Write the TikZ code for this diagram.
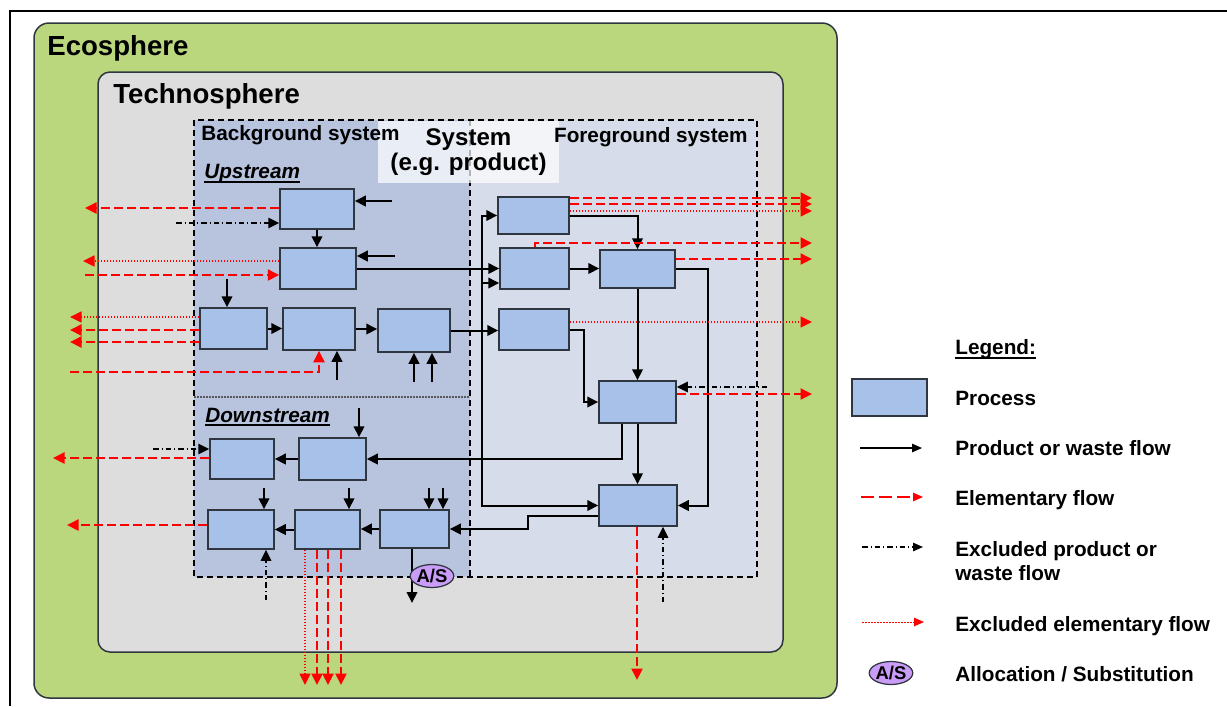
\documentclass[tikz,border=0pt]{standalone}
\usepackage{fontspec}
\setmainfont{Liberation Sans}
\usetikzlibrary{arrows.meta, shapes.geometric}
\definecolor{lcgreen}{HTML}{BBD77E}
\definecolor{lcgray}{HTML}{DDDDDD}
\definecolor{lcback}{HTML}{B8C3DE}
\definecolor{lcfore}{HTML}{D6DCE9}
\definecolor{lcproc}{HTML}{A8C1E8}
\definecolor{lcedge}{HTML}{303640}
\definecolor{lcpurple}{HTML}{C99CF8}
\definecolor{lcred}{HTML}{FF0000}

\begin{document}
\begin{tikzpicture}[x=0.2mm, y=-0.2mm,
  proc/.style 2 args={draw=lcedge, fill=lcproc, line width=0.3mm, inner sep=0pt, minimum width=#1*0.2mm, minimum height=#2*0.2mm},
  alloc/.style={ellipse, draw=lcedge, fill=lcpurple, line width=0.25mm, inner sep=0pt, minimum width=7mm, minimum height=4.6mm, font=\fontsize{10.5}{11}\selectfont\bfseries},
  flow/.style={-{Triangle[length=2.2mm, width=2.1mm]}, line width=0.4mm},
  elem/.style={-{Triangle[length=2.3mm, width=2.2mm]}, lcred, line width=0.4mm, dash pattern=on 1.8mm off 0.8mm},
  xelem/.style={-{Triangle[length=2.3mm, width=2.2mm]}, lcred, line width=0.25mm, dash pattern=on 0.3mm off 0.3mm},
  excl/.style={-{Triangle[length=2.2mm, width=2.1mm]}, line width=0.3mm, dash pattern=on 1.1mm off 0.6mm on 0.2mm off 0.6mm},
  small/.style={-{Triangle[length=2mm, width=1.7mm]}},
  big/.style={font=\fontsize{15.7}{18}\selectfont\bfseries, inner sep=0pt},
  lbl/.style={font=\fontsize{11.8}{14.8}\selectfont\bfseries, inner sep=0pt},
  sub/.style={font=\fontsize{11.8}{14.8}\selectfont\bfseries\itshape, inner sep=0pt},
  sysbox/.style={fill=white, fill opacity=0.7, text opacity=1, align=center, inner sep=0pt, minimum width=36.2mm, minimum height=12.4mm, font=\fontsize{13.7}{14.2}\selectfont\bfseries},
  border/.style={draw=lcedge, line width=0.3mm},
  sysline/.style={line width=0.3mm, dash pattern=on 1.2mm off 0.8mm}
]
  \useasboundingbox (0,0) rectangle (1227,706);
  \draw[line width=0.4mm] (10,706) -- (10,11) -- (1227,11);

  \draw[border, fill=lcgreen, rounded corners=3mm] (34,23) rectangle (837,698);
  \draw[border, fill=lcgray, rounded corners=2.4mm] (98,72) rectangle (783,652);
  \fill[lcback] (194,120) rectangle (470,577);
  \fill[lcfore] (470,120) rectangle (757,577);
  \draw[gray!70!black, line width=0.25mm, dash pattern=on 0.3mm off 0.3mm] (194,397) -- (470,397);
  \draw[sysline] (194,120) rectangle (757,577);
  \draw[sysline] (470,120) -- (470,577);
  \node[sysbox] (sys) at (468.5,152) {System\\(e.g. product)};

  \node[big, anchor=base west] (eco) at (47,55) {Ecosphere};
  \node[big, anchor=base west] (tech) at (113,103) {Technosphere};
  \node[lbl, anchor=base west] (bgs) at (201,140) {Background system};
  \node[lbl, anchor=base east] (fgs) at (748,142) {Foreground system};
  \node[sub, anchor=base west] (ups) at (204,178) {Upstream};
  \node[sub, anchor=base west] (dns) at (205,422) {Downstream};
  \draw[line width=0.4mm] ([yshift=-0.8mm]ups.base west) -- ([yshift=-0.8mm]ups.base east);
  \draw[line width=0.4mm] ([yshift=-0.6mm]dns.base west) -- ([yshift=-0.6mm]dns.base east);

  \node[proc={74}{40}] (up1) at (317,209) {};
  \node[proc={76}{41}] (up2) at (318,268.5) {};
  \node[proc={67}{41}] (up3) at (233.5,328.5) {};
  \node[proc={72}{42}] (up4) at (319,329) {};
  \node[proc={72}{43}] (up5) at (414,330.5) {};
  \node[proc={71}{37}] (fg1) at (533.5,215.5) {};
  \node[proc={69}{41}] (fg2) at (534.5,268.5) {};
  \node[proc={70}{41}] (fg3) at (534,329.5) {};
  \node[proc={75}{38}] (fg4) at (637.5,269) {};
  \node[proc={77}{42}] (fg5) at (637.5,402) {};
  \node[proc={78}{41}] (fg6) at (638,505.5) {};
  \node[proc={64}{40}] (dn1) at (242,459) {};
  \node[proc={67}{42}] (dn2) at (332.5,459) {};
  \node[proc={66}{39}] (dn3) at (241,529.5) {};
  \node[proc={65}{39}] (dn4) at (327.5,529.5) {};
  \node[proc={69}{38}] (dn5) at (414.5,529) {};

  \coordinate (a1) at (392,201);
  \coordinate (a2) at (395,256);
  \coordinate (a3) at (227,279);
  \coordinate (a4) at (337,380);
  \coordinate (a5) at (414,382);
  \coordinate (a6) at (432,382);
  \coordinate (e1) at (85,208);
  \coordinate (e2) at (83,261);
  \coordinate (e3) at (85,275);
  \coordinate (e4) at (70,317);
  \coordinate (e5) at (70,330);
  \coordinate (e6) at (70,342);
  \coordinate (e7) at (70,372);
  \coordinate (x1) at (176,223);

  \draw[flow] (a1) -- (a1 -| up1.east);
  \draw[elem] (e1 -| up1.west) -- (e1);
  \draw[excl] (x1) -- (x1 -| up1.west);
  \draw[flow] (up1.south) -- (up1.south |- up2.north);
  \draw[flow] (a2) -- (a2 -| up2.east);
  \draw[xelem] (e2 -| up2.west) -- (e2);
  \draw[elem] (e3) -- (e3 -| up2.west);
  \draw[flow] (up2.east) -- (up2.east -| fg2.west);
  \draw[flow] (a3) -- (a3 |- up3.north);
  \draw[xelem] (e4 -| up3.west) -- (e4);
  \draw[elem] (e5 -| up3.west) -- (e5);
  \draw[elem] (e6 -| up3.west) -- (e6);
  \draw[flow] (up3.east) -- (up3.east -| up4.west);
  \draw[flow] (up4.east) -- (up4.east -| up5.west);
  \draw[elem] (e7) -| (up4.south);
  \draw[flow] (a4) -- (a4 |- up4.south);
  \draw[flow] (a5) -- (a5 |- up5.south);
  \draw[flow] (a6) -- (a6 |- up5.south);
  \draw[flow] (up5.east) -- (up5.east -| fg3.west);

  \coordinate (bus) at (482,283);
  \coordinate (e8) at (812,198);
  \coordinate (e9) at (812,204);
  \coordinate (e10) at (812,211);
  \coordinate (e11) at (812,243);
  \coordinate (e12) at (812,259);
  \coordinate (e13) at (812,322);
  \coordinate (e14) at (812,394);
  \coordinate (e15) at (637,680);
  \coordinate (x2) at (767,387);
  \coordinate (x3) at (663,602);
  \coordinate (r1) at (708,269);
  \coordinate (r2) at (584,330);
  \coordinate (r3) at (622,459);
  \coordinate (r4) at (528,516);
  \coordinate (r5) at (528,529);

  \draw[flow] (bus) |- (fg1.west);
  \draw[flow] (bus) -- (bus -| fg2.west);
  \draw[flow] (bus) |- (fg6.west);
  \draw[elem] (e8 -| fg1.east) -- (e8);
  \draw[elem] (e9 -| fg1.east) -- (e9);
  \draw[xelem] (e10 -| fg1.east) -- (e10);
  \draw[flow] (fg1.east) -| (fg4.north);
  \draw[elem] (fg2.north) |- (e11);
  \draw[flow] (fg2.east) -- (fg2.east -| fg4.west);
  \draw[elem] (e12 -| fg4.east) -- (e12);
  \draw[flow] (fg4.east) -- (r1) |- (fg6.east);
  \draw[xelem] (e13 -| fg3.east) -- (e13);
  \draw[flow] (r2 -| fg3.east) -- (r2) |- (fg5.west);
  \draw[flow] (fg4.south) -- (fg4.south |- fg5.north);
  \draw[excl] (x2) -- (x2 -| fg5.east);
  \draw[elem] (e14 -| fg5.east) -- (e14);
  \draw[flow] (fg5.south) -- (fg5.south |- fg6.north);
  \draw[flow] (r3 |- fg5.south) -- (r3) -- (r3 -| dn2.east);
  \draw[flow] (r4 -| fg6.west) -- (r4) -- (r5) -- (r5 -| dn5.east);
  \draw[elem] (e15 |- fg6.south) -- (e15);
  \draw[excl] (x3) -- (x3 |- fg6.south);

  \coordinate (a7) at (359,408);
  \coordinate (a8) at (264,488);
  \coordinate (a9) at (349,488);
  \coordinate (a10) at (429,488);
  \coordinate (a11) at (443,488);
  \coordinate (a12) at (412,603);
  \coordinate (e16) at (53,458);
  \coordinate (e17) at (67,525);
  \coordinate (d1) at (305,685);
  \coordinate (d2) at (317,685);
  \coordinate (d3) at (328,685);
  \coordinate (d4) at (341,685);
  \coordinate (x4) at (153,449);
  \coordinate (x5) at (266,600);

  \draw[flow] (a7) -- (a7 |- dn2.north);
  \draw[flow] (dn2.west) -- (dn2.west -| dn1.east);
  \draw[excl] (x4) -- (x4 -| dn1.west);
  \draw[elem] (e16 -| dn1.west) -- (e16);
  \draw[flow] (a8) -- (a8 |- dn3.north);
  \draw[flow] (a9) -- (a9 |- dn4.north);
  \draw[flow] (a10) -- (a10 |- dn5.north);
  \draw[flow] (a11) -- (a11 |- dn5.north);
  \draw[flow] (dn5.west) -- (dn5.west -| dn4.east);
  \draw[flow] (dn4.west) -- (dn4.west -| dn3.east);
  \draw[elem] (e17 -| dn3.west) -- (e17);
  \draw[excl] (x5) -- (x5 |- dn3.south);
  \draw[xelem] (d1 |- dn4.south) -- (d1);
  \draw[elem] (d2 |- dn4.south) -- (d2);
  \draw[elem] (d3 |- dn4.south) -- (d3);
  \draw[elem] (d4 |- dn4.south) -- (d4);
  \draw[flow] (a12 |- dn5.south) -- (a12);
  \node[alloc] (as) at (432,576) {A/S};

  \node[lbl, anchor=base west] (leg) at (955,354) {Legend:};
  \draw[line width=0.4mm] ([yshift=-0.7mm]leg.base west) -- ([yshift=-0.7mm]leg.base east);
  \node[proc={75}{37}] (lgproc) at (889.5,397.5) {};
  \node[lbl, anchor=base west] (lgt1) at (955,405) {Process};
  \node[lbl, anchor=base west] (lgt2) at (955,455) {Product or waste flow};
  \node[lbl, anchor=base west] (lgt3) at (955,505.7) {Elementary flow};
  \node[lbl, anchor=base west] (lgt4) at (955,556.7) {Excluded product or};
  \node[lbl, anchor=base west] (lgt5) at (955,580.7) {waste flow};
  \node[lbl, anchor=base west] (lgt6) at (955,631.7) {Excluded elementary flow};
  \node[lbl, anchor=base west] (lgt7) at (955,681.7) {Allocation / Substitution};
  \node[alloc] (lgas) at (891,673) {A/S};

  \coordinate (l1a) at (860,448);
  \coordinate (l1b) at (922,448);
  \coordinate (l2a) at (861,497);
  \coordinate (l2b) at (923,497);
  \coordinate (l3a) at (862,547);
  \coordinate (l3b) at (923,547);
  \coordinate (l4a) at (862,622);
  \coordinate (l4b) at (924,622);
  \draw[flow, small, line width=0.25mm] (l1a) -- (l1b);
  \draw[elem, small, line width=0.3mm, dash pattern=on 2.6mm off 1mm] (l2a) -- (l2b);
  \draw[excl, small, line width=0.25mm] (l3a) -- (l3b);
  \draw[xelem, small, line width=0.2mm] (l4a) -- (l4b);
\end{tikzpicture}
\end{document}
